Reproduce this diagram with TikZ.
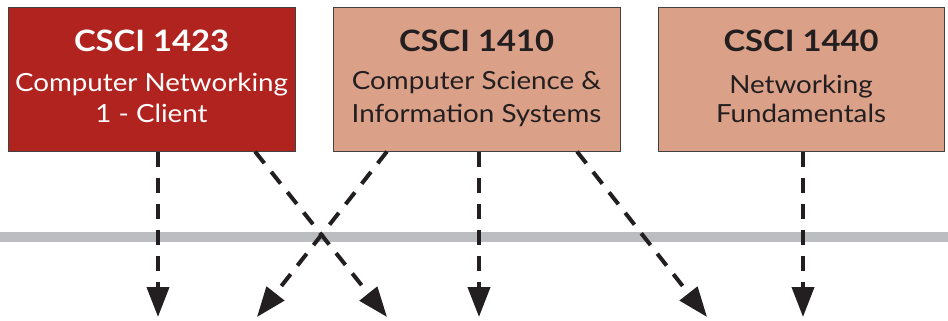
\documentclass[tikz,border=0pt]{standalone}
\usepackage{fontspec}
\setmainfont{Lato}[FakeStretch=1.11]
\usetikzlibrary{arrows.meta}
\definecolor{darkred}{HTML}{B0231F}
\definecolor{salmon}{HTML}{DBA088}
\definecolor{rulegray}{HTML}{BCBDC0}
\definecolor{ink}{HTML}{231F20}
\begin{document}
\begin{tikzpicture}[x=1pt,y=-1pt,
  box/.style={draw=ink!85,line width=1pt,minimum width=#1,minimum height=143pt,inner sep=0pt},
  ttl/.style={anchor=base,font=\fontsize{29.5}{30}\selectfont\bfseries,inner sep=0pt},
  sub/.style={anchor=base,font=\fontsize{25}{26}\selectfont,inner sep=0pt},
  arr/.style={line width=4pt,ink,dash pattern=on 15pt off 11pt,-{Triangle[length=30pt,width=22pt]}}]
\useasboundingbox (0,0) rectangle (948,321);
% gray rule
\draw[rulegray,line width=10pt] (0,237) -- (948,237);
% boxes
\node[box=287pt,fill=darkred] (b1) at (151.5,79.5) {};
\node[box=287pt,fill=salmon] (b2) at (476.5,79.5) {};
\node[box=286pt,fill=salmon] (b3) at (801,79.5) {};
% texts
\node[ttl,white] (t1a) at (151.5,52) {CSCI 1423};
\node[sub,white] (t1b) at (151.5,92) {Computer Networking};
\node[sub,white] (t1c) at (151.5,122) {1 - Client};
\node[ttl,ink] (t2a) at (476.5,52) {CSCI 1410};
\node[sub,ink] (t2b) at (476.5,89) {Computer Science \&};
\node[sub,ink] (t2c) at (476.5,122) {Information Systems};
\node[ttl,ink] (t3a) at (801,52) {CSCI 1440};
\node[sub,ink] (t3b) at (801,93) {Networking};
\node[sub,ink] (t3c) at (801,122) {Fundamentals};
% arrow ends
\coordinate (e1) at (158,317);
\coordinate (e2) at (387,317);
\coordinate (e3) at (257,317);
\coordinate (e4) at (479,317);
\coordinate (e5) at (707,317);
\coordinate (e6) at (803,317);
% arrows
\draw[arr] ([xshift=6.5pt]b1.south) -- (e1);
\draw[arr] ([xshift=103.5pt]b1.south) -- (e2);
\draw[arr] ([xshift=-89.5pt]b2.south) -- (e3);
\draw[arr] ([xshift=2.5pt]b2.south) -- (e4);
\draw[arr] ([xshift=100.5pt]b2.south) -- (e5);
\draw[arr] ([xshift=2pt]b3.south) -- (e6);
\end{tikzpicture}
\end{document}
